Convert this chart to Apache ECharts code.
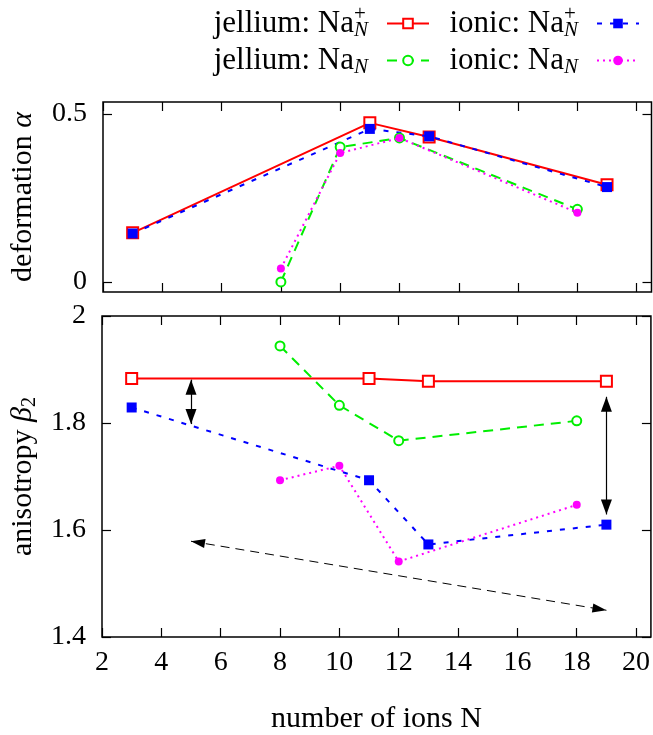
<!DOCTYPE html>
<html><head><meta charset="utf-8">
<script src="https://cdn.jsdelivr.net/npm/echarts@6/dist/echarts.min.js"></script>
<style>html,body{margin:0;padding:0;background:#fff}#c{width:653px;height:735px}</style>
</head><body><div id="c"></div>
<script>
// ---- data ----
const xTicks = [2, 4, 6, 8, 10, 12, 14, 16, 18, 20];
const alphaTicks = [0, 0.5];
const betaTicks = [1.4, 1.6, 1.8, 2];

const nCation = [3, 11, 13, 19];   // N for Na_N^+
const nNeutral = [8, 10, 12, 18];  // N for Na_N

const alphaJelliumCation = [0.146, 0.473, 0.431, 0.289];
const alphaIonicCation   = [0.144, 0.455, 0.433, 0.282];
const alphaJelliumNeutral = [0.000, 0.401, 0.428, 0.216];
const alphaIonicNeutral   = [0.040, 0.383, 0.428, 0.206];

const betaJelliumCation = [1.883, 1.883, 1.878, 1.878];
const betaIonicCation   = [1.829, 1.693, 1.573, 1.610];
const betaJelliumNeutral = [1.944, 1.833, 1.767, 1.804];
const betaIonicNeutral   = [1.693, 1.720, 1.541, 1.647];

const arrowShort = [[5, 1.881], [5, 1.798]];
const arrowLong = [[19, 1.849], [19, 1.629]];
const arrowTrend = [[5, 1.579], [19, 1.450]];

const seriesNames = ['jellium: Na_N^+', 'ionic: Na_N^+', 'jellium: Na_N', 'ionic: Na_N'];

// ---- styling ----
const F = 'Liberation Serif';
const styles = [
  {color: '#ff0000', symbol: 'emptyRect', symbolSize: 11, line: 'solid', bw: 1.5},
  {color: '#0000ff', symbol: 'rect', symbolSize: 10, line: [5, 8], bw: 0},
  {color: '#00ee00', symbol: 'emptyCircle', symbolSize: 9, line: [10, 7], bw: 1.5},
  {color: '#ff00ff', symbol: 'circle', symbolSize: 8, line: [2, 4], bw: 0}
];

function pairs(xs, ys) { return xs.map((x, i) => [x, ys[i]]); }

function mkSeries(idx, xs, ys, panel) {
  const s = styles[idx];
  return {
    type: 'line', name: seriesNames[idx], xAxisIndex: panel, yAxisIndex: panel,
    data: pairs(xs, ys), symbol: s.symbol, symbolSize: s.symbolSize,
    color: s.color,
    lineStyle: {color: s.color, width: 2, type: s.line},
    itemStyle: {color: s.color, borderColor: s.color, borderWidth: s.bw},
    z: 2 + idx, animation: false, silent: true
  };
}

const tickLabelStyle = {fontFamily: F, fontSize: 28, color: '#000'};

function xAxisDef(grid, pos, labels) {
  return {
    type: 'value', gridIndex: grid, position: pos, min: 2, max: 20.5,
    axisLine: {show: false, onZero: false},
    axisTick: {show: true, inside: true, length: 9, lineStyle: {color: '#000', width: 1.2}, customValues: xTicks},
    axisLabel: Object.assign({show: labels, margin: 12, customValues: xTicks}, tickLabelStyle),
    splitLine: {show: false}
  };
}
function yAxisDef(grid, pos, labels, min, max, ticks) {
  return {
    type: 'value', gridIndex: grid, position: pos, min: min, max: max,
    axisLine: {show: false, onZero: false},
    axisTick: {show: true, inside: true, length: 9, lineStyle: {color: '#000', width: 1.2}, customValues: ticks},
    axisLabel: Object.assign({show: labels, margin: 16, customValues: ticks}, tickLabelStyle),
    splitLine: {show: false}
  };
}

const xAxes = [
  xAxisDef(0, 'bottom', false),
  xAxisDef(1, 'bottom', true),
  xAxisDef(0, 'top', false),
  xAxisDef(1, 'top', false)
];
xAxes[1].name = 'number of ions N';
xAxes[1].nameLocation = 'middle';
xAxes[1].nameGap = 67;
xAxes[1].nameTextStyle = {fontFamily: F, fontSize: 30, color: '#000'};

const yAxes = [
  yAxisDef(0, 'left', true, -0.03, 0.535, alphaTicks),
  yAxisDef(1, 'left', true, 1.4, 2.0, betaTicks),
  yAxisDef(0, 'right', false, -0.03, 0.535, alphaTicks),
  yAxisDef(1, 'right', false, 1.4, 2.0, betaTicks)
];
yAxes[0].axisLabel.formatter = v => (v === 0 ? '0' : String(v));
yAxes[1].axisLabel.formatter = v => (v === 2 ? '2' : v.toFixed(1));
yAxes[0].name = '{t|deformation }{i|α}';
yAxes[0].nameLocation = 'middle';
yAxes[0].nameGap = 65;
yAxes[0].nameTextStyle = {rich: {
  t: {fontFamily: F, fontSize: 30, color: '#000'},
  i: {fontFamily: F, fontSize: 30, fontStyle: 'italic', color: '#000'}
}};
yAxes[1].name = '{t|anisotropy }{i|β}{s|2}';
yAxes[1].nameLocation = 'middle';
yAxes[1].nameGap = 62;
yAxes[1].nameTextStyle = {rich: {
  t: {fontFamily: F, fontSize: 30, color: '#000'},
  i: {fontFamily: F, fontSize: 30, fontStyle: 'italic', color: '#000'},
  s: {fontFamily: F, fontSize: 20, color: '#000', padding: [14, 0, 0, 0]}
}};

const legendRich = {
  t: {fontFamily: F, fontSize: 31, color: '#000', align: 'left'},
  sup: {fontFamily: F, fontSize: 21, color: '#000', width: 0, align: 'left', padding: [0, 0, 18, 0]},
  sub: {fontFamily: F, fontSize: 21, fontStyle: 'italic', color: '#000', align: 'left', padding: [14, 0, 0, 0]},
  g: {width: 14, align: 'left'}
};
function legendLabel(name) {
  const m = name.match(/^(.*): Na_N(\^\+)?$/);
  return '{t|' + m[1] + ': Na}{sup|' + (m[2] ? '+' : ' ') + '}{sub|N}{g| }';
}
function legendDef(i, right, top) {
  return {
    data: [seriesNames[i]], right: right, top: top, padding: 0, align: 'right',
    itemWidth: 42, itemHeight: 12, selectedMode: false, formatter: legendLabel,
    textStyle: {rich: legendRich}
  };
}

const headBig = [11, 15];
const headSmall = [9, 14];
function arrowEnd(pt, size) {
  return {coord: pt, symbol: 'triangle', symbolSize: size, symbolOffset: [0, size[1] / 2]};
}

const series = [
  mkSeries(0, nCation, alphaJelliumCation, 0),
  mkSeries(1, nCation, alphaIonicCation, 0),
  mkSeries(2, nNeutral, alphaJelliumNeutral, 0),
  mkSeries(3, nNeutral, alphaIonicNeutral, 0),
  mkSeries(0, nCation, betaJelliumCation, 1),
  mkSeries(1, nCation, betaIonicCation, 1),
  mkSeries(2, nNeutral, betaJelliumNeutral, 1),
  mkSeries(3, nNeutral, betaIonicNeutral, 1),
  {
    type: 'line', name: 'arrows', xAxisIndex: 1, yAxisIndex: 1, data: [], silent: true, animation: false,
    markLine: {
      silent: true, animation: false, label: {show: false},
      lineStyle: {color: '#000', width: 1.2, type: 'solid'},
      itemStyle: {color: '#000'},
      emphasis: {disabled: true},
      data: [
        [arrowEnd(arrowShort[0], headBig), arrowEnd(arrowShort[1], headBig)],
        [arrowEnd(arrowLong[0], headBig), arrowEnd(arrowLong[1], headBig)],
        [Object.assign(arrowEnd(arrowTrend[0], headSmall), {lineStyle: {type: [9, 6], width: 1}}),
         arrowEnd(arrowTrend[1], headSmall)]
      ]
    }
  }
];

const chart = echarts.init(document.getElementById('c'), null, {renderer: 'canvas'});
chart.setOption({
  animation: false,
  backgroundColor: '#fff',
  grid: [
    {left: 99, right: 1.5, top: 102, height: 190, show: true, borderColor: '#000', borderWidth: 1.5, backgroundColor: 'transparent'},
    {left: 99, right: 1.5, top: 316, height: 324, show: true, borderColor: '#000', borderWidth: 1.5, backgroundColor: 'transparent'}
  ],
  legend: [
    legendDef(0, 223, 4),
    legendDef(1, 13, 4),
    legendDef(2, 223, 41),
    legendDef(3, 13, 41)
  ],
  xAxis: xAxes,
  yAxis: yAxes,
  series: series
});
</script>
</body></html>
